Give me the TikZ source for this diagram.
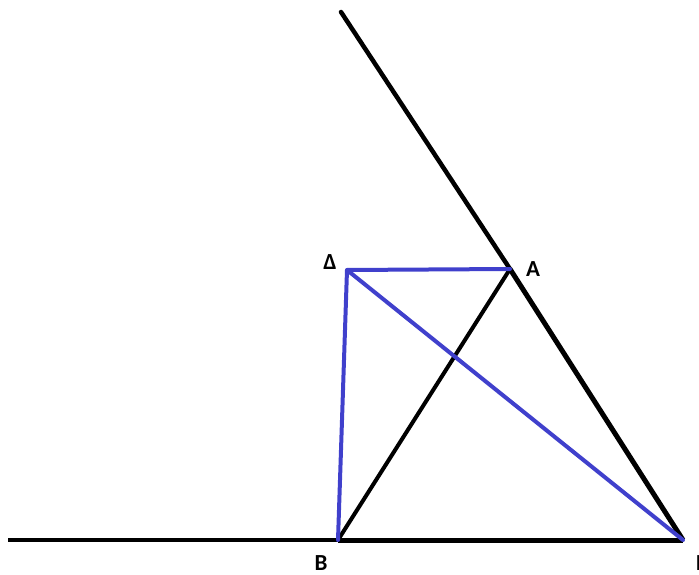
\documentclass[tikz,border=0pt]{standalone}
\usepackage{fontspec}
\setmainfont{Carlito}
\definecolor{myblue}{RGB}{64,64,204}
\begin{document}
\begin{tikzpicture}[x=1pt,y=-1pt,
  blu/.style={line width=4pt,myblue,line cap=round,line join=round},
  lbl/.style={font=\bfseries\fontsize{23}{23}\selectfont,inner sep=0pt}]
\useasboundingbox (0,0) rectangle (699,575);
\coordinate (T) at (341,12);
\coordinate (A) at (510,269);
\coordinate (D) at (347,270);
\coordinate (B) at (338,540);
\coordinate (G) at (683,540);
\coordinate (L) at (8,540);
\draw[line width=4.5pt,line cap=round] (T) -- (A);
\draw[line width=5pt] (A) -- (G);
\draw[line width=4.5pt] (L) -- (B);
\draw[line width=5pt] (B) -- (G);
\draw[line width=4pt] (B) -- (A);
\draw[blu] (A) -- (D) -- (B);
\draw[blu] (D) -- (G);
\node[lbl] (lD) at (330,262) {Δ};
\node[lbl] (lA) at (533,269) {A};
\node[lbl] (lB) at (321,563) {B};
\node[lbl] (lG) at (701,563) {Γ};
\end{tikzpicture}
\end{document}
